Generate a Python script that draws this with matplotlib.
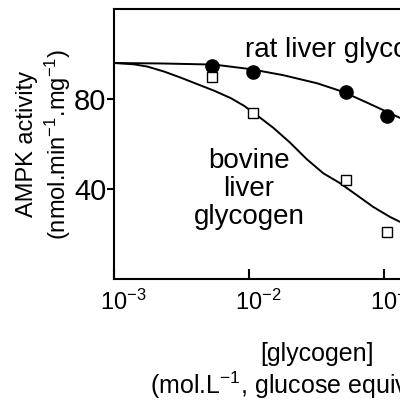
import matplotlib.pyplot as plt
import matplotlib.transforms as mtransforms
import numpy as np

plt.rcParams['font.family'] = ['Liberation Sans', 'DejaVu Sans']
plt.rcParams['mathtext.fontset'] = 'custom'
plt.rcParams['mathtext.rm'] = 'Liberation Sans'
plt.rcParams['mathtext.it'] = 'Liberation Sans:italic'

# measured points (glycogen, mol/L glucose equivalents)
rat_x = [0.0053, 0.0107, 0.052, 0.105]
rat_y = [94.6, 92.2, 82.9, 72.5]
bov_x = [0.0053, 0.0107, 0.052, 0.105]
bov_y = [90.0, 74.0, 43.9, 21.1]

# fitted curves
rat_fit_x = [0.001, 0.0022, 0.0055, 0.0102, 0.0179, 0.0319, 0.0497, 0.0748, 0.1315, 0.178]
rat_fit_y = [96.0, 95.8, 95.3, 93.3, 90.6, 87.0, 83.2, 78.4, 71.6, 68.0]
bov_fit_x = [0.001, 0.00141, 0.00177, 0.00235, 0.00312, 0.00414, 0.00551, 0.00732,
             0.00918, 0.01172, 0.01514, 0.02014, 0.02673, 0.03548, 0.04721,
             0.06281, 0.08337, 0.1107, 0.1315, 0.178]
bov_fit_y = [96.0, 95.4, 94.4, 92.2, 89.5, 86.6, 83.7, 80.4,
             77.0, 72.3, 67.2, 60.6, 53.3, 47.0, 42.6,
             37.3, 32.0, 27.6, 25.4, 21.0]

fig = plt.figure(figsize=(4, 4), dpi=100)
ax = fig.add_axes([0.285, 0.3025, 1.0125, 0.675])

ax.plot(rat_fit_x, rat_fit_y, color='black', linewidth=1.4)
ax.plot(bov_fit_x, bov_fit_y, color='black', linewidth=1.4)
ax.plot(rat_x, rat_y, 'o', color='black', markersize=9.5, linestyle='none')
ax.plot(bov_x, bov_y, 's', markerfacecolor='white', markeredgecolor='black',
        markeredgewidth=1.0, markersize=7.5, linestyle='none')

ax.set_xscale('log')
ax.set_xlim(1e-3, 1e0)
ax.set_ylim(0, 120)
ax.set_xticks([1e-3, 1e-2, 1e-1, 1e0])
ax.minorticks_off()
ax.set_yticks([40, 80])

for s in ax.spines.values():
    s.set_linewidth(1.5)
ax.tick_params(axis='x', direction='in', length=7, width=1.5, labelsize=17, pad=8)
ax.tick_params(axis='y', direction='out', length=5, width=1.5, labelsize=21, pad=0.5)

# centre the "10" on the tick, exponent hanging to the right
shift = mtransforms.ScaledTranslation(0.09, 0, fig.dpi_scale_trans)
for lab in ax.get_xticklabels():
    lab.set_transform(lab.get_transform() + shift)

ax.text(0.0093, 98.6, 'rat liver glycogen', fontsize=20, va='baseline', ha='left')
ax.text(0.0100, 40.0, 'bovine\nliver\nglycogen', fontsize=20, ha='center', va='center',
        linespacing=1.12)

ax.set_ylabel('AMPK activity\n(nmol.min$^{-1}$.mg$^{-1}$)', fontsize=17, linespacing=1.2,
              labelpad=1)
ax.set_xlabel('[glycogen]\n(mol.L$^{-1}$, glucose equivalents)', fontsize=18,
              linespacing=1.15, labelpad=19)

plt.savefig('out.png', dpi=100)
